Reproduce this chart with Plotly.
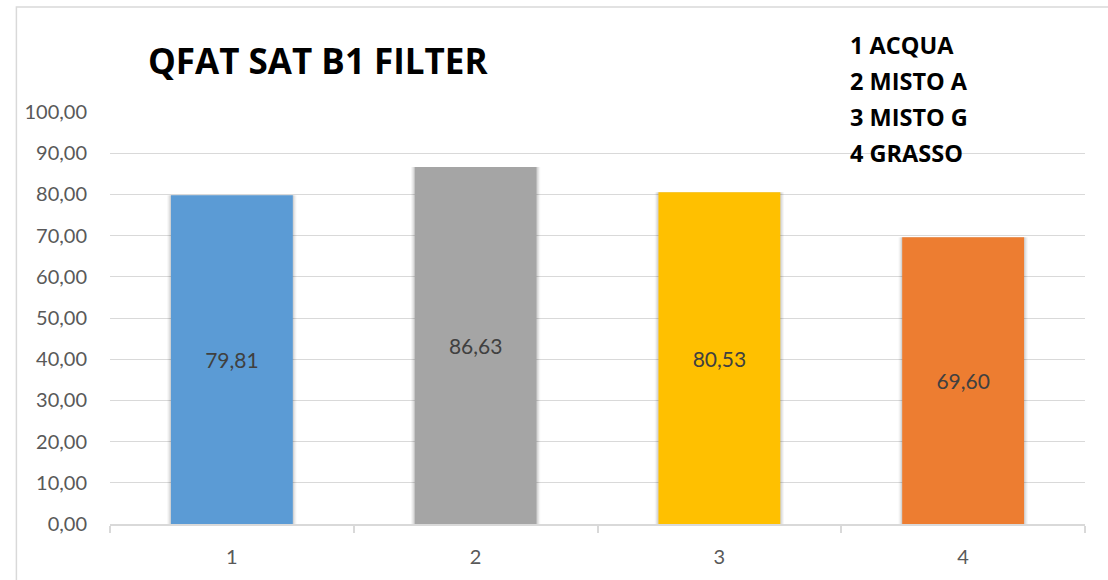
import plotly.graph_objects as go

categories = ["1", "2", "3", "4"]
values = [79.81, 86.63, 80.53, 69.60]
colors = ["#5B9BD5", "#A5A5A5", "#FFC000", "#ED7D31"]
title_text = "QFAT SAT B1 FILTER"
legend_lines = ["1 ACQUA", "2 MISTO A", "3 MISTO G", "4 GRASSO"]
y_ticks = [0, 10, 20, 30, 40, 50, 60, 70, 80, 90, 100]

FONT = "Lato, Open Sans, sans-serif"
BOLD_FONT = "Open Sans, Lato, sans-serif"

fig = go.Figure()
# soft shadow behind bars
for w, a in [(0.53, 0.04), (0.52, 0.06), (0.51, 0.08)]:
    fig.add_trace(go.Bar(
        x=categories, y=values, width=w, offset=-w / 2,
        marker_color=f"rgba(0,0,0,{a})", marker_line_width=0,
        hoverinfo="skip", showlegend=False,
    ))
fig.add_trace(go.Bar(
    x=categories, y=values, width=0.5, marker_color=colors, marker_line_width=0,
    offset=-0.25,
    text=[f"{v:.2f}".replace(".", ",") for v in values],
    textposition="inside", insidetextanchor="middle",
    textfont=dict(family=FONT, size=21, color="#404040"),
    showlegend=False,
))

fig.update_layout(
    width=1108, height=580,
    margin=dict(l=110, r=23, t=112, b=56),
    paper_bgcolor="white", plot_bgcolor="white",
    barmode="overlay",
    separators=",.",
    showlegend=False,
    font=dict(family=FONT, color="#595959"),
)
fig.update_yaxes(
    range=[0, 100], tickvals=y_ticks, tickformat=".2f",
    showgrid=True, gridcolor="#D9D9D9", gridwidth=1.3,
    zeroline=False, showline=False, ticks="",
    tickfont=dict(family=FONT, size=20, color="#595959"),
    ticklabelstandoff=22,
)
fig.update_xaxes(
    type="category", showgrid=False, showline=True, linecolor="#D9D9D9", linewidth=1.5,
    ticks="outside", tickson="boundaries", ticklen=7, tickcolor="#D9D9D9", tickwidth=1.5,
    tickfont=dict(family=FONT, size=20, color="#595959"),
    ticklabelstandoff=14,
)

# chart border
fig.add_shape(type="rect", xref="paper", yref="paper",
              x0=-0.096, x1=1.05, y0=-0.2, y1=1.255,
              line=dict(color="#D9D9D9", width=1.5), fillcolor="rgba(0,0,0,0)", layer="below")

fig.add_annotation(text=f"<b>{title_text}</b>", xref="paper", yref="paper",
                   x=0.037, y=1.126, xanchor="left", yanchor="middle", showarrow=False,
                   font=dict(family=BOLD_FONT, size=35, color="#000000"))

for i, line in enumerate(legend_lines):
    fig.add_annotation(text=f"<b>{line}</b>", xref="paper", yref="paper",
                       x=0.757, y=1.163 - i * 0.0874, xanchor="left", yanchor="middle",
                       showarrow=False, font=dict(family=BOLD_FONT, size=23.5, color="#000000"))

fig.write_html("out.html")
